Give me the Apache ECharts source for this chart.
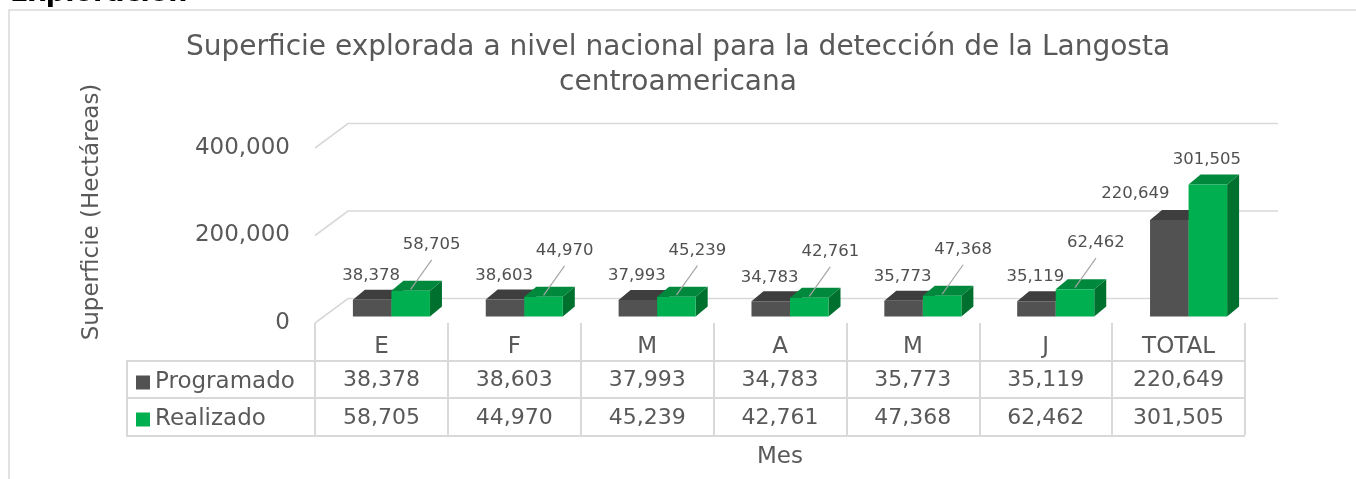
<!DOCTYPE html>
<html><head><meta charset="utf-8">
<script src="https://cdn.jsdelivr.net/npm/echarts@6/dist/echarts.min.js"></script>
<style>html,body{margin:0;padding:0;background:#fff}#c{width:1356px;height:479px}</style>
</head><body><div id="c"></div>
<script>
// ---- data ----
const categories = ['E', 'F', 'M', 'A', 'M', 'J', 'TOTAL'];
const programado = [38378, 38603, 37993, 34783, 35773, 35119, 220649];
const realizado = [58705, 44970, 45239, 42761, 47368, 62462, 301505];
const yTicks = [0, 200000, 400000];
const seriesNames = ['Programado', 'Realizado'];

// ---- style constants ----
const FONT = 'DejaVu Sans';
const TXT = '#595959';
const GRID_C = '#d9d9d9';
const WALL = [33, -24.5];      // depth of the 3D floor/back wall
const BAR_SHIFT = [10, -6.5];  // bars sit part way into the depth
const BAR_DEPTH = [12, -10];   // depth of each 3D bar
const BAR_FRAC = 0.29;         // bar width as fraction of category band
const COLORS = [
  {front: '#525252', top: '#3e3e3e', side: '#363636'},
  {front: '#00b050', top: '#00883d', side: '#00702f'}
];
const fmt = v => v.toLocaleString('en-US');

function renderGridLine(params, api) {
  const cs = params.coordSys;
  const y = api.coord([0, api.value(1)])[1];
  const x0 = cs.x, x1 = cs.x + cs.width;
  return {
    type: 'polyline', silent: true,
    shape: {points: [[x0, y], [x0 + WALL[0], y + WALL[1]], [x1 + WALL[0], y + WALL[1]]]},
    style: {stroke: GRID_C, lineWidth: 1.6, fill: null}
  };
}

function makeBarRender(sIdx) {
  return function (params, api) {
    const i = api.value(0), v = api.value(1);
    const band = api.size([1, 0])[0];
    const w = band * BAR_FRAC;
    const topP = api.coord([i, v]);
    const baseP = api.coord([i, 0]);
    const cx = topP[0] + BAR_SHIFT[0];
    const x0 = sIdx === 0 ? cx - w : cx;
    const yT = topP[1] + BAR_SHIFT[1];
    const yB = baseP[1] + BAR_SHIFT[1];
    const c = COLORS[sIdx];
    const dx = BAR_DEPTH[0], dy = BAR_DEPTH[1];
    const children = [
      {type: 'polygon', shape: {points: [[x0 + w, yT], [x0 + w + dx, yT + dy], [x0 + w + dx, yB + dy], [x0 + w, yB]]}, style: {fill: c.side}},
      {type: 'polygon', shape: {points: [[x0, yT], [x0 + dx, yT + dy], [x0 + w + dx, yT + dy], [x0 + w, yT]]}, style: {fill: c.top}},
      {type: 'rect', shape: {x: x0, y: yT, width: w, height: yB - yT}, style: {fill: c.front}}
    ];
    const isTotal = i === categories.length - 1;
    const fc = x0 + w / 2;
    const labelStyle = (x, y) => ({type: 'text', x: x, y: y, style: {text: fmt(v), fill: '#505050', font: '16.5px "' + FONT + '"', align: 'center', verticalAlign: 'middle'}});
    if (sIdx === 0) {
      children.push(isTotal ? labelStyle(fc - 34, yT - 26) : labelStyle(fc - 1, yT - 24));
    } else {
      if (isTotal) {
        children.push(labelStyle(fc - 1, yT - 25));
      } else {
        const lx = fc + 21, ly = yT - 46;
        children.push({type: 'line', shape: {x1: lx, y1: ly + 15, x2: fc, y2: yT - 1.5}, style: {stroke: '#a6a6a6', lineWidth: 1.2}});
        children.push(labelStyle(lx, ly));
      }
    }
    return {type: 'group', children: children};
  };
}

const chart = echarts.init(document.getElementById('c'), null, {renderer: 'canvas'});
const tableAxis = (vals, offset) => ({
  type: 'category', data: categories, position: 'bottom', offset: offset,
  axisLine: {show: false}, axisTick: {show: false}, splitLine: {show: false},
  axisLabel: {margin: 13, fontSize: 22, color: TXT, fontFamily: FONT, interval: 0,
    formatter: (val, idx) => fmt(vals[idx])}
});

chart.setOption({
  animation: false,
  backgroundColor: '#fff',
  title: {
    text: 'Superficie explorada a nivel nacional para la detección de la Langosta\ncentroamericana',
    left: 'center', top: 30, padding: 0,
    textStyle: {fontFamily: FONT, fontSize: 28, lineHeight: 35, fontWeight: 'normal', color: TXT}
  },
  legend: {
    data: seriesNames, orient: 'vertical', left: 136, top: 371, padding: 0,
    itemWidth: 14, itemHeight: 14, itemGap: 14, icon: 'rect',
    textStyle: {fontFamily: FONT, fontSize: 23, color: TXT}
  },
  grid: {left: 315, right: 111, top: 148, bottom: 156},
  xAxis: [
    {
      type: 'category', data: categories, position: 'bottom',
      axisLine: {show: false},
      axisTick: {show: true, length: 112, lineStyle: {color: GRID_C, width: 2}},
      axisLabel: {margin: 13, fontSize: 23, color: TXT, fontFamily: FONT, interval: 0},
      splitLine: {show: false},
      name: 'Mes', nameLocation: 'middle', nameGap: 123,
      nameTextStyle: {fontSize: 23, color: TXT, fontFamily: FONT}
    },
    tableAxis(programado, 33),
    tableAxis(realizado, 71)
  ],
  yAxis: {
    type: 'value', min: 0, max: 400000, interval: 200000,
    axisLine: {show: false}, axisTick: {show: false}, splitLine: {show: false},
    axisLabel: {margin: 25, fontSize: 23, color: TXT, fontFamily: FONT, formatter: v => fmt(v)}
  },
  graphic: [
    {type: 'rect', z: -10, silent: true, shape: {x: 9, y: 10, width: 1400, height: 600}, style: {fill: null, stroke: '#d9d9d9', lineWidth: 1.5}},
    {type: 'text', x: 10, y: -6, silent: true, style: {text: 'Exploración', font: 'bold 27px "' + FONT + '"', fill: '#000', align: 'left', verticalAlign: 'middle'}},
    {type: 'text', x: 92, y: 212, rotation: Math.PI / 2, silent: true, style: {text: 'Superficie (Hectáreas)', font: '23px "' + FONT + '"', fill: TXT, align: 'center', verticalAlign: 'middle'}},
    {type: 'line', silent: true, shape: {x1: 127, y1: 361, x2: 1245, y2: 361}, style: {stroke: GRID_C, lineWidth: 2}},
    {type: 'line', silent: true, shape: {x1: 127, y1: 398, x2: 1245, y2: 398}, style: {stroke: GRID_C, lineWidth: 2}},
    {type: 'line', silent: true, shape: {x1: 127, y1: 436, x2: 1245, y2: 436}, style: {stroke: GRID_C, lineWidth: 2}},
    {type: 'line', silent: true, shape: {x1: 127, y1: 360, x2: 127, y2: 437}, style: {stroke: GRID_C, lineWidth: 2}}
  ],
  series: [
    {type: 'custom', name: 'grid', silent: true, z: 1, renderItem: renderGridLine,
      data: yTicks.map(v => [0, v]), encode: {x: 0, y: 1}},
    {type: 'custom', name: seriesNames[0], z: 3, itemStyle: {color: COLORS[0].front},
      renderItem: makeBarRender(0), data: programado.map((v, i) => [i, v]), encode: {x: 0, y: 1}},
    {type: 'custom', name: seriesNames[1], z: 4, itemStyle: {color: COLORS[1].front},
      renderItem: makeBarRender(1), data: realizado.map((v, i) => [i, v]), encode: {x: 0, y: 1}}
  ]
});
</script></body></html>
